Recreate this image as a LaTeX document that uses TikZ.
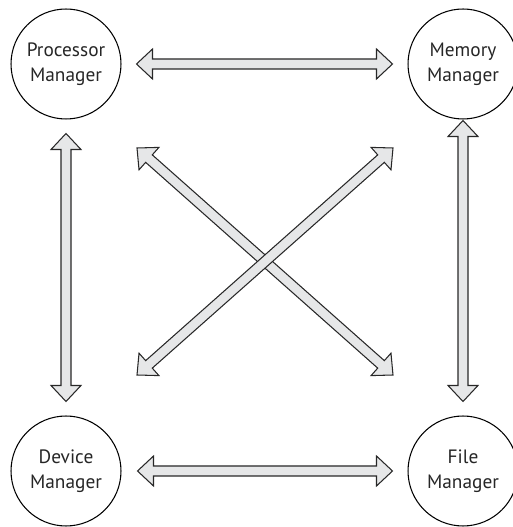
\documentclass[tikz,border=0pt]{standalone}
\usepackage{fontspec}
\setmainfont{PT Sans}
\usepackage{xcolor}
\definecolor{arrowfill}{RGB}{230,231,232}
\definecolor{arrowline}{RGB}{40,40,40}
\usetikzlibrary{calc,positioning}
\tikzset{
  manager/.style={circle, draw=black, line width=0.6pt, minimum size=2.2cm, inner sep=0pt,
    align=center, font=\fontsize{11}{14}\selectfont, text=black!85},
  fatarrow/.style={fill=arrowfill, draw=arrowline, line width=0.6pt, line join=miter}
}
\newcommand{\headlen}{0.32cm}
\newcommand{\headhalf}{0.3cm}
\newcommand{\shafthalf}{0.1cm}
% double headed block arrow between two named points
\newcommand{\fatarrow}[2]{%
  \draw[fatarrow] (#1)
    -- ($(#1)!\headlen!(#2)!\headhalf!90:(#2)$)
    -- ($(#1)!\headlen!(#2)!\shafthalf!90:(#2)$)
    -- ($(#2)!\headlen!(#1)!\shafthalf!-90:(#1)$)
    -- ($(#2)!\headlen!(#1)!\headhalf!-90:(#1)$)
    -- (#2)
    -- ($(#2)!\headlen!(#1)!\headhalf!90:(#1)$)
    -- ($(#2)!\headlen!(#1)!\shafthalf!90:(#1)$)
    -- ($(#1)!\headlen!(#2)!\shafthalf!-90:(#2)$)
    -- ($(#1)!\headlen!(#2)!\headhalf!-90:(#2)$)
    -- cycle;}

\begin{document}
\begin{tikzpicture}[x=0.02cm, y=0.02cm]
  \useasboundingbox (0,0) rectangle (513,527);

  % Managers
  \node[manager] (proc) at (66,463) {Processor\\Manager};
  \node[manager] (mem) at (463,463) {Memory\\Manager};
  \node[manager] (dev) at (66,56) {Device\\Manager};
  \node[manager] (file) at (463,56) {File\\Manager};

  % Arrow ends
  \coordinate (proc-mem) at ($(proc.east)!0.3cm!(mem.west)$);
  \coordinate (mem-proc) at ($(mem.west)!0.3cm!(proc.east)$);
  \coordinate (dev-file) at ($(dev.east)!0.32cm!(file.west)$);
  \coordinate (file-dev) at ($(file.west)!0.3cm!(dev.east)$);
  \coordinate (proc-dev) at ($(proc.south)!0.28cm!(dev.north)$);
  \coordinate (dev-proc) at ($(dev.north)!0.28cm!(proc.south)$);
  \coordinate (mem-file) at ($(mem.south)!0.02cm!(file.north)$);
  \coordinate (file-mem) at ($(file.north)!0.28cm!(mem.south)$);
  \coordinate (proc-file) at ($(proc.center)+(71,-84)$);
  \coordinate (file-proc) at ($(file.center)+(-70,96)$);
  \coordinate (mem-dev) at ($(mem.center)+(-70,-84)$);
  \coordinate (dev-mem) at ($(dev.center)+(71,96)$);

  % Arrows
  \fatarrow{proc-mem}{mem-proc}
  \fatarrow{dev-file}{file-dev}
  \fatarrow{proc-dev}{dev-proc}
  \fatarrow{mem-file}{file-mem}
  \fatarrow{proc-file}{file-proc}
  \fatarrow{mem-dev}{dev-mem}
\end{tikzpicture}
\end{document}
